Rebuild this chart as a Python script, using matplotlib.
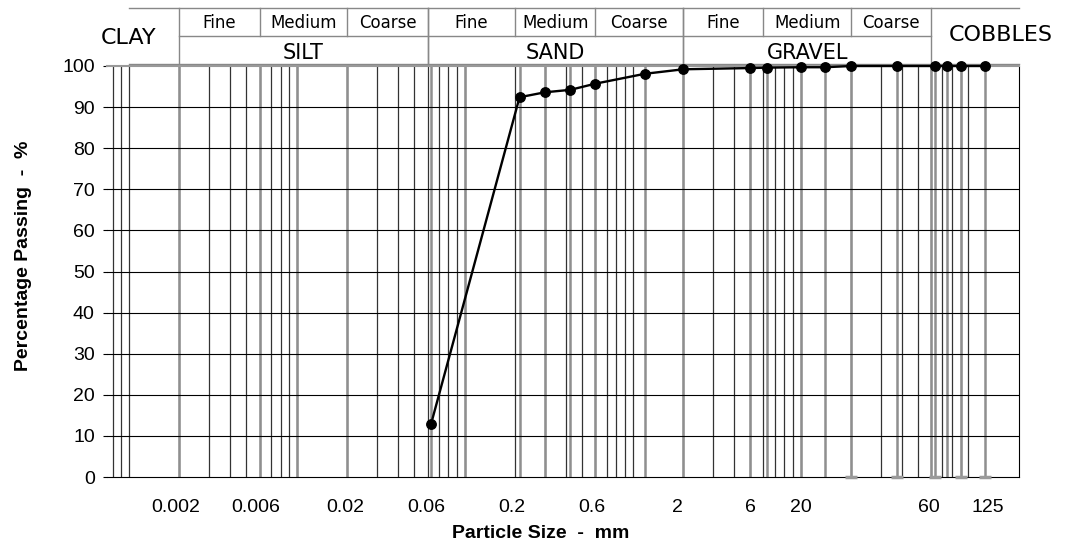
import matplotlib.pyplot as plt
import matplotlib.transforms as mtransforms
from matplotlib.ticker import NullLocator

plt.rcParams['font.family'] = ['Liberation Sans', 'DejaVu Sans']

# sieve sizes (mm) and percentage passing
sizes = [0.063, 0.212, 0.3, 0.425, 0.6, 1.18, 2, 5, 6.3, 10, 14, 20, 37.5, 63, 75, 90, 125]
passing = [12.9, 92.4, 93.6, 94.2, 95.7, 98.1, 99.2, 99.5, 99.6, 99.7, 99.7, 100, 100, 100, 100, 100, 100]

# extra reference lines and base marks
ref_sizes = [0.002, 0.006, 0.01, 0.02, 0.1, 60]
base_sizes = [20, 37.5, 63, 90, 125]

# x tick labels and where they sit on the size axis
tick_at = [0.00189, 0.0057, 0.0194, 0.059, 0.19, 0.57, 1.84, 5.06, 10.0, 58, 130]
tick_text = ['0.002', '0.006', '0.02', '0.06', '0.2', '0.6', '2', '6', '20', '60', '125']

# soil classification bands
groups = ['SILT', 'SAND', 'GRAVEL']
group_bounds = [[0.002, 0.006, 0.02, 0.06], [0.06, 0.2, 0.6, 2], [2, 6, 20, 60]]
sub_names = ['Fine', 'Medium', 'Coarse']

W, H = 1080, 547
fig = plt.figure(figsize=(W / 100, H / 100), dpi=100)
ax = fig.add_axes([107 / W, (H - 477) / H, 912 / W, 411 / H])
ax.set_xscale('log')

# log grid lines, 1..9 per decade
minor = [m * 10.0 ** k for k in range(-4, 3) for m in range(1, 10)]
minor = [v for v in minor if 0.00074 < v < 200]
ax.vlines(minor, 0, 100, colors='#333333', lw=0.9, zorder=1)
ax.vlines(sizes + ref_sizes, 0, 100, colors='#8f8f8f', lw=1.8, zorder=1.5)
for y in range(10, 100, 10):
    ax.axhline(y, color='black', lw=0.8, zorder=2)

ax.plot(base_sizes, [0] * len(base_sizes), ls='none', marker='_', ms=9, mew=2.5,
        color='#9a9a9a', clip_on=False, zorder=4)
ax.plot(sizes, passing, 'o-', color='black', lw=1.7, ms=6.8, zorder=5, clip_on=False)

ax.set_xlim(0.00074, 200)
ax.set_ylim(0, 100)
ax.set_xticks(tick_at, tick_text)
ax.xaxis.set_minor_locator(NullLocator())
ax.set_yticks(range(0, 101, 10))
ax.tick_params(axis='x', length=0, pad=16, labelsize=14)
ax.tick_params(axis='y', length=3, width=0.8, pad=5.8, labelsize=14)

ax.spines['left'].set_visible(False)
ax.spines['top'].set_color('#999999')
ax.spines['top'].set_linewidth(1.5)
ax.spines['bottom'].set_linewidth(0.8)
ax.spines['right'].set_linewidth(0.8)

ax.set_xlabel('Particle Size  -  mm', fontsize=14, fontweight='bold', va='top')
ax.xaxis.set_label_coords(0.476, -0.117)
ax.set_ylabel('Percentage Passing  -  %', fontsize=14, fontweight='bold')
ax.yaxis.set_label_coords(-0.082, 0.538)

# classification table above the plot
blend = mtransforms.blended_transform_factory(ax.transData, fig.transFigure)


def fy(px):
    return 1 - px / H


line_kw = dict(color='#888888', lw=1.0, transform=blend, clip_on=False)
ax.plot([0.001, 200], [fy(7.5)] * 2, **line_kw)
ax.plot([0.002, 60], [fy(36)] * 2, **line_kw)
ax.plot([0.001, 200], [fy(64)] * 2, **line_kw)

hdr_font = ['DejaVu Sans']
for name, bounds in zip(groups, group_bounds):
    for b in (bounds[0], bounds[-1]):
        ax.plot([b, b], [fy(7.5), fy(64)], **line_kw)
    for b in bounds[1:-1]:
        ax.plot([b, b], [fy(7.5), fy(36)], **line_kw)
    for lo, hi, sub in zip(bounds[:-1], bounds[1:], sub_names):
        ax.text((lo * hi) ** 0.5, fy(22.5), sub, transform=blend, ha='center', va='center',
                fontsize=12, family=hdr_font)
    ax.text((bounds[0] * bounds[-1]) ** 0.5, fy(53), name, transform=blend,
            ha='center', va='center', fontsize=15, family=hdr_font)

ax.text(0.001, fy(37.5), 'CLAY', transform=blend, ha='center', va='center',
        fontsize=16, family=hdr_font)
ax.text(156, fy(35), 'COBBLES', transform=blend, ha='center', va='center',
        fontsize=16, family=hdr_font)

fig.savefig('out.png', dpi=100)
